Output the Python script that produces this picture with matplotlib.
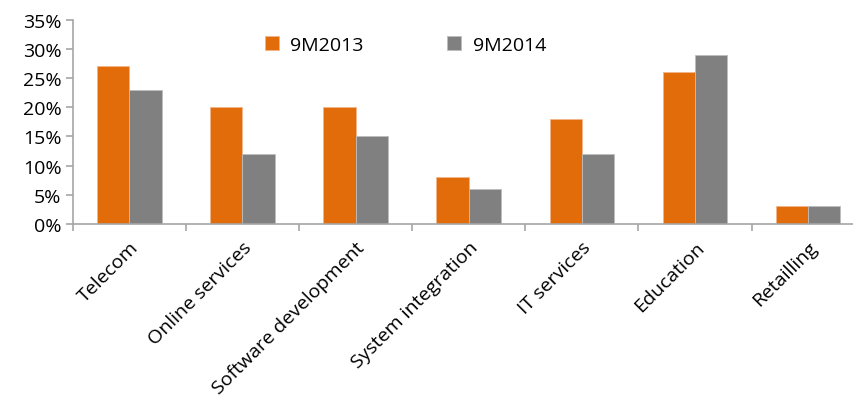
import numpy as np
import matplotlib.pyplot as plt
from matplotlib.ticker import FixedLocator, PercentFormatter

categories = ["Telecom", "Online services", "Software development",
              "System integration", "IT services", "Education", "Retailling"]
share_2013 = [27, 20, 20, 8, 18, 26, 3]
share_2014 = [23, 12, 15, 6, 12, 29, 3]

ORANGE = "#E36C0A"
GREY = "#808080"
AXIS = "#A6A6A6"

plt.rcParams["font.family"] = ["Open Sans", "DejaVu Sans"]

fig = plt.figure(figsize=(8.54, 4.06), dpi=100)
ax = fig.add_axes([72.7 / 854, 181 / 406, 792 / 854, 204.5 / 406])

x = np.arange(len(categories))
w = 0.285
ax.bar(x - w / 2, share_2013, w, color=ORANGE, edgecolor="#F2B58A", linewidth=0.6,
       label="9M2013")
ax.bar(x + w / 2, share_2014, w, color=GREY, edgecolor="#BDBDBD", linewidth=0.6,
       label="9M2014")

ax.set_xlim(-0.5, len(categories) - 0.5)
ax.set_ylim(0, 35)
ax.set_yticks(np.arange(0, 36, 5))
ax.yaxis.set_major_formatter(PercentFormatter(decimals=0))

# category ticks sit between the groups, labels at the centres
ax.xaxis.set_major_locator(FixedLocator(np.arange(-0.5, len(categories), 1)))
ax.xaxis.set_major_formatter(plt.NullFormatter())
ax.xaxis.set_minor_locator(FixedLocator(x))
ax.set_xticklabels(categories, minor=True, rotation=45, ha="right",
                   rotation_mode="anchor", fontsize=14)
ax.tick_params(axis="x", which="minor", length=0, pad=10)
ax.tick_params(axis="x", which="major", length=5, width=1.2, color=AXIS,
               direction="out")
ax.tick_params(axis="y", length=5, width=1.2, color=AXIS, labelsize=14, pad=3)

for side in ["top", "right"]:
    ax.spines[side].set_visible(False)
for side in ["left", "bottom"]:
    ax.spines[side].set_color(AXIS)
    ax.spines[side].set_linewidth(1.2)

ax.legend(loc="center left", bbox_to_anchor=(0.243, 0.877), ncol=2, frameon=False,
          fontsize=14, handlelength=0.7, handleheight=0.7, handletextpad=0.6,
          columnspacing=4.3, borderaxespad=0, borderpad=0)

fig.savefig("out.png", dpi=100)
